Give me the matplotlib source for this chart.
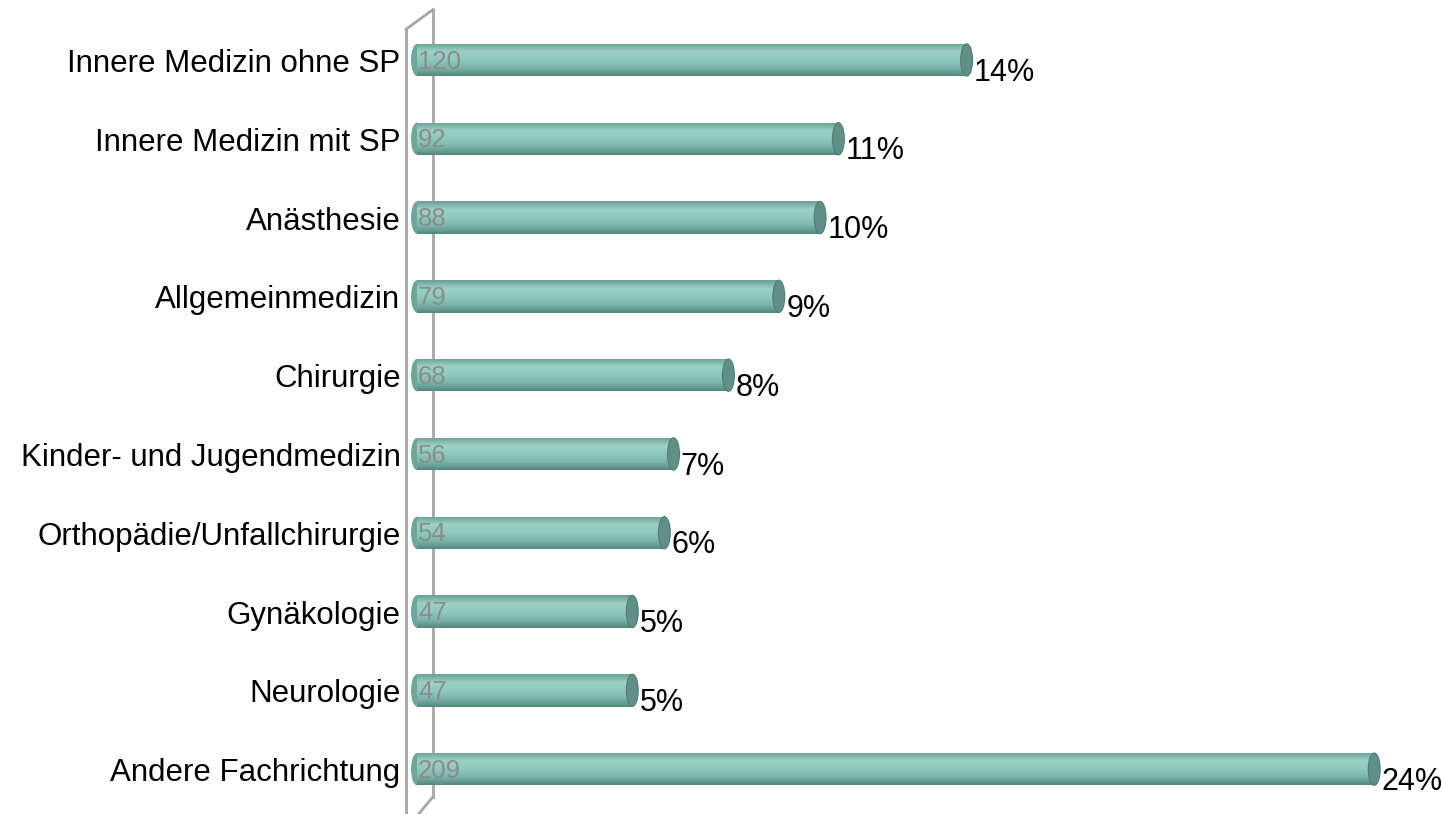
import numpy as np
import matplotlib.pyplot as plt
from matplotlib.patches import Rectangle, Ellipse
from matplotlib.colors import LinearSegmentedColormap

plt.rcParams['font.family'] = ['Liberation Sans', 'DejaVu Sans']

# Daten
fachrichtung = ['Innere Medizin ohne SP', 'Innere Medizin mit SP', 'Anästhesie',
                'Allgemeinmedizin', 'Chirurgie', 'Kinder- und Jugendmedizin',
                'Orthopädie/Unfallchirurgie', 'Gynäkologie', 'Neurologie',
                'Andere Fachrichtung']
anzahl = [120, 92, 88, 79, 68, 56, 54, 47, 47, 209]
anteil = ['14%', '11%', '10%', '9%', '8%', '7%', '6%', '5%', '5%', '24%']

fig = plt.figure(figsize=(14.42, 8.14), dpi=100)
ax = fig.add_axes([0, 0, 1, 1])
ax.set_xlim(-91.05, 223.8)
ax.set_ylim(9.569, -0.761)
ax.axis('off')

# zylinder-schattierung (oben -> unten)
zyl = LinearSegmentedColormap.from_list('zyl', ['#6a9f95', '#9bd1c5', '#8ecabd', '#7cb6aa', '#55887f'])
grad = np.linspace(0, 1, 64).reshape(-1, 1)
h = 0.205

# "Wand" links
ax.plot([-2.4, -2.4], [9.7, -0.39], color='#a6a6a6', lw=2, zorder=1)
ax.plot([-2.4, 3.5], [-0.39, -0.64], color='#a6a6a6', lw=2, zorder=1)
ax.plot([3.5, 3.5], [-0.64, 9.35], color='#a6a6a6', lw=2, zorder=1)
ax.plot([3.5, -1.5], [9.35, 9.7], color='#a6a6a6', lw=2, zorder=1)

for i, (name, v) in enumerate(zip(fachrichtung, anzahl)):
    # linkes Ende
    ax.add_patch(Ellipse((0, i), 2.6, 2 * h, facecolor='#6fa69b', edgecolor='none', zorder=2))
    rect = Rectangle((0, i - h), v, 2 * h, facecolor='none', edgecolor='none')
    ax.add_patch(rect)
    im = ax.imshow(grad, cmap=zyl, extent=[0, v, i + h, i - h], aspect='auto', zorder=3)
    im.set_clip_path(rect)
    # rechtes Ende
    ax.add_patch(Ellipse((v, i), 2.6, 2 * h, facecolor='#5f8f87', edgecolor='#4e7f76', lw=0.8, zorder=4))
    ax.text(0.2, i + 0.02, str(v), color='#8c8c8c', fontsize=18.5, ha='left', va='center', zorder=5)
    ax.text(v + 1.6, i + 0.16, anteil[i], color='black', fontsize=22, ha='left', va='center', zorder=5)
    ax.text(-3.6, i + 0.05, name, color='black', fontsize=22.5, ha='right', va='center', zorder=5)

fig.savefig('out.png', dpi=100)
